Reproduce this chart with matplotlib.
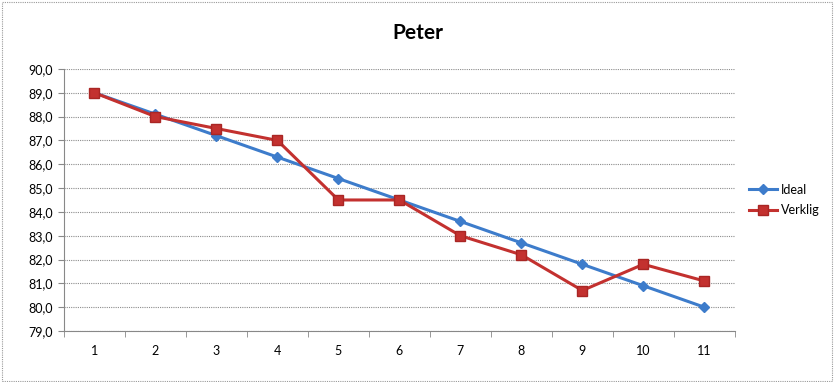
import matplotlib.pyplot as plt
from matplotlib.ticker import FuncFormatter, FixedLocator
from matplotlib.patches import Rectangle

plt.rcParams['font.family'] = ['Lato', 'DejaVu Sans']

# data
x = [1, 2, 3, 4, 5, 6, 7, 8, 9, 10, 11]
ideal = [89.0, 88.1, 87.2, 86.3, 85.4, 84.5, 83.6, 82.7, 81.8, 80.9, 80.0]
verklig = [89.0, 88.0, 87.5, 87.0, 84.5, 84.5, 83.0, 82.2, 80.7, 81.8, 81.1]
titel = "Peter"

fig = plt.figure(figsize=(8.35, 3.82), dpi=100)
ax = fig.add_axes([0.0766, 0.1335, 0.8034, 0.686])

ax.plot(x, ideal, color='#3D7CCB', lw=2.2, marker='D', ms=5.5,
        mec='#3D7CCB', mfc='#3D7CCB', label='Ideal', zorder=3)
ax.plot(x, verklig, color='#C3312F', lw=2.2, marker='s', ms=7.5,
        mec='#A92624', mfc='#C3312F', label='Verklig', zorder=4)

ax.set_xlim(0.5, 11.5)
ax.set_ylim(79, 90)
ax.set_yticks(range(79, 91))
ax.yaxis.set_major_formatter(FuncFormatter(lambda v, p: f"{v:.1f}".replace('.', ',')))
ax.set_xticks(x)
ax.xaxis.set_minor_locator(FixedLocator([i + 0.5 for i in range(0, 12)]))
ax.tick_params(axis='x', which='major', length=0, pad=10, labelsize=9)
ax.tick_params(axis='x', which='minor', length=4, color='#888888', direction='out')
ax.tick_params(axis='y', length=4, color='#888888', labelsize=9, pad=4)

ax.grid(axis='y', color='#8c8c8c', ls=(0, (1, 1)), lw=0.8)
ax.set_axisbelow(True)
for s in ['top', 'right']:
    ax.spines[s].set_visible(False)
for s in ['left', 'bottom']:
    ax.spines[s].set_color('#888888')

fig.suptitle(titel, x=0.5, y=0.94, fontsize=15, fontweight='bold')

leg = ax.legend(loc='center left', bbox_to_anchor=(1.005, 0.5), frameon=False,
                fontsize=9, handlelength=2.2, handletextpad=0.3, labelspacing=0.7)

# dotted border around the whole chart
fig.patches.append(Rectangle((0.002, 0.003), 0.995, 0.993, transform=fig.transFigure,
                             fill=False, ec='#999999', ls=(0, (1, 1)), lw=0.8))

fig.savefig('out.png', dpi=100)
